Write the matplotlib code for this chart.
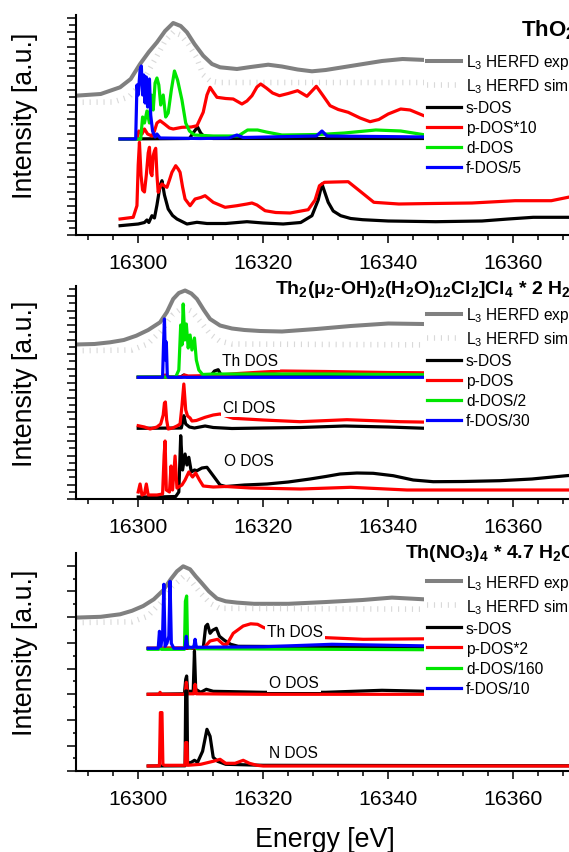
import numpy as np
import matplotlib
matplotlib.use("Agg")
import matplotlib.pyplot as plt
from matplotlib.ticker import MultipleLocator

plt.rcParams['font.family'] = ['Liberation Sans', 'DejaVu Sans']
plt.rcParams['mathtext.default'] = 'regular'

W, H = 569, 853
X0 = 75.7          # left spine, px
AX_W = 500.0       # 16290 .. 16370 eV

# ---------------- ThO2 ----------------
tho2_exp = [(16290, 139.3), (16294, 141), (16297.1, 147.7), (16298.8, 156), (16300.3, 171), (16301.7, 183),
            (16303.0, 192.7), (16304.3, 204), (16305.6, 212), (16306.8, 209), (16307.8, 202.7), (16309.0, 191),
            (16310.4, 179.3), (16311.8, 171), (16313.1, 167.7), (16315.8, 166), (16318, 168), (16320.8, 170.3),
            (16323, 168.5), (16325.5, 165.5), (16327.8, 163.7), (16330, 165), (16333, 168), (16336, 171),
            (16339, 174), (16342.3, 176), (16346, 175), (16350, 174)]
tho2_sim = [(16290, 132.7), (16296, 133), (16298.5, 138), (16300, 148), (16301.1, 158), (16302.9, 178),
            (16304.3, 194), (16305.6, 203), (16306.8, 200), (16308, 191), (16309.3, 178), (16310.4, 160),
            (16311.5, 154), (16313, 152.5), (16350, 152.5)]
tho2_th_s = [(16297.1, 96), (16308.2, 96.5), (16308.9, 103), (16309.5, 108), (16310.0, 102), (16310.7, 97.5),
             (16312, 96.5), (16350, 96.5)]
tho2_th_p = [(16297.1, 96), (16299.8, 96.5), (16300.1, 104), (16300.6, 101), (16301.0, 106), (16301.5, 101),
             (16302.2, 99), (16302.6, 104), (16303.0, 112), (16303.5, 114.3), (16304.2, 111), (16305, 107),
             (16305.6, 106), (16307, 107.7), (16308.5, 108), (16309.4, 109.3), (16310.4, 122.7), (16311, 140),
             (16311.5, 147.7), (16312.0, 143), (16312.6, 137.7), (16314, 136.5), (16315.2, 136), (16316.6, 131),
             (16317.4, 134), (16318.2, 139.3), (16319.0, 148), (16319.6, 151), (16320.5, 147), (16321.5, 142),
             (16322.6, 139.3), (16324.0, 141.5), (16325.5, 144.3), (16327.0, 138.7), (16328.5, 148.7),
             (16329.5, 140), (16330.7, 129.3), (16332, 125.5), (16333.6, 122.7), (16335.5, 117), (16337.1, 113.3),
             (16338.5, 115.5), (16340, 121), (16342, 126), (16343.5, 125), (16345.7, 119.3), (16350, 114)]
tho2_th_d = [(16297.1, 96), (16300.4, 96), (16300.7, 118), (16301.0, 112), (16301.4, 124), (16301.8, 112),
             (16302.1, 140), (16302.4, 125), (16302.7, 152), (16303.0, 157), (16303.3, 150), (16303.6, 130),
             (16304.0, 140), (16304.4, 118), (16304.8, 122), (16305.3, 145), (16305.8, 164), (16306.3, 155),
             (16307.0, 135), (16307.6, 112), (16308.2, 104), (16309, 100), (16312, 99), (16316, 99),
             (16317.5, 105), (16319.1, 105), (16320.5, 103), (16323, 100), (16329, 100.5), (16333, 102),
             (16338, 105), (16342, 104), (16346, 100), (16350, 99.5)]
tho2_th_f = [(16297.1, 96), (16299.6, 96), (16299.8, 150), (16300.0, 140), (16300.3, 165), (16300.5, 169),
             (16300.7, 140), (16300.9, 160), (16301.1, 132), (16301.3, 158), (16301.5, 128), (16301.8, 156),
             (16302.0, 120), (16302.3, 104), (16302.7, 98), (16303.0, 101), (16303.5, 97), (16310, 96.5),
             (16314.5, 97), (16315.8, 100), (16316.8, 97.5), (16328.5, 99), (16329.4, 104), (16330.2, 99),
             (16346, 98), (16350, 98)]
tho2_o_s = [(16297.1, 9.3), (16300, 11), (16301.0, 12.5), (16301.4, 15), (16301.7, 12.5), (16302.2, 19.3),
            (16302.6, 17), (16303.0, 30), (16303.5, 49.3), (16303.8, 54.3), (16304.2, 40), (16304.8, 26),
            (16305.5, 19.5), (16306.2, 16), (16307.8, 11), (16309.4, 12.7), (16311, 11.5), (16314, 11.5),
            (16317.4, 13.3), (16320, 12), (16323.2, 11), (16326, 12.5), (16327.8, 19.3), (16328.8, 35),
            (16329.4, 51), (16330.0, 40), (16330.4, 32.7), (16331.2, 24), (16332.4, 19.3), (16334, 16.5),
            (16335.9, 15.3), (16340, 14), (16347.6, 13.3), (16355, 14), (16359.2, 16), (16363.2, 17.7),
            (16370, 17.7)]
tho2_o_p = [(16297.1, 16), (16299.2, 17.7), (16299.8, 29.3), (16300.0, 70), (16300.2, 92.7), (16300.45, 60),
            (16300.7, 45), (16301.0, 43), (16301.3, 60), (16301.6, 82), (16301.8, 87.7), (16302.0, 62),
            (16302.2, 59.3), (16302.4, 79.3), (16302.6, 84), (16302.8, 86.7), (16303.0, 60), (16303.2, 42.7),
            (16303.5, 48), (16303.8, 51), (16304.2, 49), (16304.6, 47.7), (16305.0, 55), (16305.4, 62.7),
            (16306.0, 69.3), (16306.4, 66), (16306.7, 62.7), (16307.1, 48), (16307.5, 36), (16308.3, 29.3),
            (16309.1, 36), (16310.0, 37.5), (16310.7, 39.3), (16312.0, 32.7), (16313.9, 27.7), (16315.8, 29.3),
            (16317.4, 31), (16318.2, 32), (16319.0, 30), (16320.3, 24.3), (16322, 22.5), (16324.3, 22),
            (16327.2, 25.3), (16328.3, 35), (16329.0, 49.3), (16329.8, 52.7), (16331.5, 53), (16333.6, 53.3),
            (16335.4, 44.3), (16337.7, 32.7), (16341.7, 31), (16347, 31.5), (16353.4, 32), (16360.3, 34.3),
            (16366.1, 34.3), (16369, 38), (16370, 39.3)]

# ---------------- Th2(mu2-OH)2(H2O)12Cl2]Cl4 * 2 H2O ----------------
cl_exp = [(16290, 154.5), (16293, 155), (16295.5, 156.7), (16297.7, 159), (16299.7, 163.3), (16301.6, 169),
          (16303.5, 176.7), (16304.6, 187), (16305.6, 200), (16306.5, 206), (16307.5, 208.5), (16308.5, 205.5),
          (16309.4, 200), (16310.5, 189), (16311.5, 180), (16313.1, 173.5), (16315, 170.5), (16317, 169),
          (16319.5, 168), (16323, 167.5), (16328.5, 170), (16334, 173), (16340, 175.5), (16345.6, 175),
          (16350, 174.5)]
cl_sim = [(16290, 148.3), (16299, 149), (16301.5, 155), (16303.5, 167), (16305.5, 184), (16307.2, 192),
          (16308.5, 188), (16310, 177), (16311.5, 165), (16313, 158), (16315, 155), (16350, 154)]
cl_th_s = [(16300, 121.7), (16306.8, 122), (16307.3, 124), (16307.8, 122), (16311.5, 122.5), (16312.2, 128),
           (16312.8, 129.3), (16313.3, 123.5), (16314, 122.5), (16350, 122.5)]
cl_th_p = [(16300, 121.7), (16304.0, 122), (16304.3, 124), (16304.6, 122), (16307, 122), (16307.4, 124),
           (16308, 123), (16312, 123.5), (16316, 125.5), (16320, 127), (16323, 128), (16330, 127.5),
           (16340, 126.5), (16350, 126)]
cl_th_d = [(16300, 122), (16306.0, 122), (16306.5, 129), (16306.8, 174), (16307.0, 154), (16307.2, 195),
           (16307.45, 159), (16307.7, 175), (16308.0, 151), (16308.3, 164), (16308.6, 149), (16309.0, 161),
           (16309.3, 139), (16309.7, 129), (16310.3, 124.5), (16312, 125), (16330, 125), (16350, 124)]
cl_th_f = [(16300, 121.7), (16303.9, 121.7), (16304.05, 154), (16304.2, 180), (16304.35, 139), (16304.5, 157),
           (16304.65, 124), (16304.8, 121.7), (16350, 121.7)]
cl_cl_s = [(16300, 70.7), (16306.9, 71), (16307.1, 77), (16307.3, 83.3), (16307.6, 75), (16308.2, 72),
           (16309, 71), (16310.7, 73), (16312, 71.5), (16315, 70.5), (16320, 71), (16326, 71.5), (16333, 73),
           (16340, 72), (16346, 70.7), (16355, 70), (16370, 70)]
cl_cl_p = [(16300, 73.3), (16301.0, 72), (16301.9, 70), (16303.0, 72), (16303.6, 75), (16304.0, 84),
           (16304.2, 96), (16304.35, 97), (16304.55, 79), (16304.8, 70), (16305.5, 71), (16306.2, 73),
           (16306.7, 75), (16307.0, 93), (16307.3, 115), (16307.6, 89), (16307.9, 83), (16308.3, 81),
           (16308.6, 78), (16309.3, 78.5), (16310.7, 81.7), (16312.0, 84), (16313.1, 85), (16314, 83),
           (16315.2, 80.7), (16320, 79), (16325.9, 77.3), (16333.4, 79.3), (16341.9, 77.3), (16350, 76.5)]
cl_o_s = [(16300, 2), (16303, 2), (16306.0, 2.5), (16306.5, 7), (16306.8, 63.3), (16307.1, 29),
          (16307.5, 45), (16307.8, 34), (16308.1, 41.7), (16308.5, 27), (16309.0, 29), (16309.4, 28.3),
          (16310.2, 31), (16311, 31.7), (16312, 23.3), (16313.1, 14), (16314, 12.5), (16317, 14),
          (16320.6, 15), (16324, 17), (16327.5, 20), (16330, 22.5), (16332.3, 25), (16335, 26),
          (16337.6, 25.7), (16340.8, 23.3), (16344, 19), (16347.2, 17.3), (16352, 17.5), (16357.9, 18.3),
          (16363, 20), (16368.5, 23.3), (16370, 24)]
cl_o_p = [(16300, 7), (16300.3, 15), (16300.6, 4), (16301.0, 5), (16301.3, 15), (16301.6, 4),
          (16303.0, 4), (16303.9, 5), (16304.15, 44), (16304.3, 58), (16304.5, 9), (16305.0, 7),
          (16305.25, 33), (16305.5, 9), (16305.9, 43), (16306.2, 11), (16307.0, 14), (16307.5, 19),
          (16308.1, 27), (16308.7, 22), (16309.2, 26), (16309.8, 19), (16310.4, 13), (16312, 12),
          (16314, 12.5), (16318, 11), (16326, 10), (16334, 11.7), (16343, 9), (16370, 9)]

# ---------------- Th(NO3)4 * 4.7 H2O ----------------
nit_exp = [(16290, 153.7), (16294, 154.5), (16297.1, 157), (16299, 160.5), (16300.8, 165.3), (16302.5, 172),
           (16304, 181), (16305.2, 192), (16306.2, 200), (16307.2, 205), (16308.3, 202), (16309.2, 195),
           (16310.1, 188.7), (16311.3, 180), (16312.6, 172.8), (16314, 170), (16315.8, 168.7), (16318.5, 167.5),
           (16324, 167.5), (16330.1, 169.3), (16335.9, 171.3), (16340.6, 173.7), (16345.7, 172), (16350, 171.5)]
nit_sim = [(16290, 148.7), (16299, 149.5), (16301.5, 155), (16303.5, 168), (16305.5, 185), (16307.3, 195),
           (16308.5, 190), (16310, 178), (16311.5, 168), (16313, 163), (16350, 162)]
nit_th_s = [(16301.6, 123), (16310.4, 123), (16310.8, 145), (16311.1, 147), (16311.5, 138), (16311.9, 141),
            (16312.5, 143), (16313, 135), (16313.8, 131), (16314.8, 127), (16316, 125), (16350, 124)]
nit_th_p = [(16301.6, 123), (16310.5, 123.5), (16311.5, 130.3), (16312.7, 132), (16313.6, 127), (16314.2, 127),
            (16315.2, 138), (16316.8, 145.3), (16318, 147.5), (16319.1, 147), (16320, 144), (16322, 139),
            (16326, 135), (16329.8, 133.7), (16336, 132), (16350, 132.7)]
nit_th_d = [(16301.6, 122), (16303.3, 122), (16303.5, 126), (16303.7, 122), (16307.4, 122), (16307.55, 170),
            (16307.75, 175.3), (16307.9, 126), (16308.2, 123), (16308.8, 124), (16309.1, 127), (16309.4, 122.5),
            (16330, 122), (16350, 121.5)]
nit_th_f = [(16301.6, 123), (16303.2, 123), (16303.4, 140), (16303.6, 125), (16303.9, 135), (16304.1, 187),
            (16304.3, 125), (16304.6, 128), (16304.9, 135), (16305.1, 190), (16305.3, 128), (16305.7, 123),
            (16307.5, 123), (16307.7, 135), (16307.9, 124), (16308.9, 124), (16309.1, 132), (16309.3, 124),
            (16320, 124.5), (16331, 127), (16350, 125)]
nit_o_s = [(16301.6, 77), (16307.4, 77.5), (16307.6, 92), (16307.75, 95.3), (16307.9, 80), (16308.8, 80),
           (16309.0, 120.3), (16309.2, 82), (16310, 79), (16310.9, 82), (16312, 80), (16320, 79), (16330, 79),
           (16339, 81), (16350, 79.5)]
nit_o_p = [(16301.6, 77), (16303.3, 77), (16303.5, 79), (16303.7, 77), (16307.5, 77), (16307.7, 89),
           (16307.9, 77.5), (16308.9, 77.5), (16309.1, 87), (16309.3, 77.5), (16320, 77), (16350, 77)]
nit_n_s = [(16301.6, 5.3), (16307.5, 5.5), (16307.6, 80.3), (16307.8, 80.3), (16307.9, 8), (16308.5, 9),
           (16309.0, 11), (16309.5, 9), (16310.3, 20), (16311.0, 42), (16311.5, 35), (16312.0, 14),
           (16312.7, 10), (16314, 7), (16320, 6), (16370, 5.5)]
nit_n_p = [(16301.6, 5.3), (16303.4, 5.5), (16303.55, 58.7), (16303.8, 58.7), (16303.95, 7), (16304.2, 6),
           (16307.5, 6), (16307.6, 28.7), (16307.8, 28.7), (16307.9, 6), (16310, 7), (16312, 10),
           (16313.1, 12), (16314, 8), (16315.5, 8), (16316.8, 11), (16317.8, 8), (16319, 6), (16320, 5.3),
           (16370, 5.3)]

tho2_labels = ['s-DOS', 'p-DOS*10', 'd-DOS', 'f-DOS/5']
cl_labels = ['s-DOS', 'p-DOS', 'd-DOS/2', 'f-DOS/30']
nit_labels = ['s-DOS', 'p-DOS*2', 'd-DOS/160', 'f-DOS/10']

DOS_COLORS = ['black', '#ff0000', '#00e600', '#0000ff']
SIM_STYLE = dict(color='#d9d9d9', lw=4.0, linestyle=(0, (0.2, 1.05)))


def draw(ax, pts, **kw):
    e, y = zip(*pts)
    return ax.plot(e, y, solid_joinstyle='round', **kw)[0]


def make_panel(bottom_px, top_px, step, minor_len):
    ax = fig.add_axes([X0 / W, 1 - bottom_px / H, AX_W / W, (bottom_px - top_px) / H])
    ax.set_xlim(16290, 16370)
    ax.set_ylim(0, bottom_px - top_px)
    for s in ['top', 'right']:
        ax.spines[s].set_visible(False)
    for s in ['left', 'bottom']:
        ax.spines[s].set_linewidth(1.5)
    ax.xaxis.set_major_locator(MultipleLocator(20))
    ax.xaxis.set_minor_locator(MultipleLocator(4))
    ax.yaxis.set_major_locator(MultipleLocator(2 * step))
    ax.yaxis.set_minor_locator(MultipleLocator(step))
    ax.tick_params(which='both', direction='out', width=1.1, labelsize=15.3, pad=7)
    ax.tick_params(axis='x', which='major', length=6)
    ax.tick_params(axis='x', which='minor', length=3.6)
    ax.tick_params(axis='y', which='major', length=6.3)
    ax.tick_params(axis='y', which='minor', length=minor_len)
    ax.tick_params(axis='y', labelleft=False)
    fig.text(25.4 / W, 1 - (bottom_px + top_px - 20) / 2 / H, 'Intensity [a.u.]', rotation=90,
             ha='center', va='center', fontsize=19.3)
    return ax


def fill_panel(ax, exp, sim, groups, labels, legend_top):
    h_exp = draw(ax, exp, color='#808080', lw=2.9, label='L$_3$ HERFD exp')
    h_sim = draw(ax, sim, label='L$_3$ HERFD sim', **SIM_STYLE)
    handles = [h_exp, h_sim]
    for gi, grp in enumerate(groups):
        for ci, pts in enumerate(grp):
            if pts is None:
                continue
            ln = draw(ax, pts, color=DOS_COLORS[ci], lw=2.3)
            if gi == 0:
                ln.set_label(labels[ci])
                handles.append(ln)
    ax.legend(handles=handles, loc='upper left', bbox_to_anchor=(424 / W, 1 - legend_top / H),
              bbox_transform=fig.transFigure, frameon=True, facecolor='white', edgecolor='none',
              framealpha=1, fancybox=False, borderpad=0.2, borderaxespad=0, handlelength=2.2,
              handletextpad=0.3, labelspacing=0.33, fontsize=11.2)


def tag(ax, x, y, s):
    ax.text(x, y, s, fontsize=11.2, ha='left', va='center', zorder=6,
            bbox=dict(facecolor='white', edgecolor='none', pad=1.5))


fig = plt.figure(figsize=(W / 100, H / 100), dpi=100)

# ThO2
ax1 = make_panel(236, 16, 7.25, 4.8)
fill_panel(ax1, tho2_exp, tho2_sim,
           [[tho2_th_s, tho2_th_p, tho2_th_d, tho2_th_f], [tho2_o_s, tho2_o_p, None, None]],
           tho2_labels, 50)
ax1.text(16361.3, 205.5, 'ThO$_2$', fontsize=16, fontweight='bold', ha='left', va='center', clip_on=False)

# chloride complex
ax2 = make_panel(500, 287, 7.25, 4.8)
fill_panel(ax2, cl_exp, cl_sim,
           [[cl_th_s, cl_th_p, cl_th_d, cl_th_f], [cl_cl_s, cl_cl_p, None, None], [cl_o_s, cl_o_p, None, None]],
           cl_labels, 303)
ax2.text(16321.9, 211, 'Th$_2$(μ$_2$-OH)$_2$(H$_2$O)$_{12}$Cl$_2$]Cl$_4$ * 2 H$_2$O', fontsize=14,
         fontweight='bold', ha='left', va='center', clip_on=False)
tag(ax2, 16313.4, 138.3, 'Th DOS')
tag(ax2, 16313.5, 91.7, 'Cl DOS')
tag(ax2, 16313.8, 38.3, 'O DOS')

# nitrate
ax3 = make_panel(772.3, 554, 12.85, 2.5)
fill_panel(ax3, nit_exp, nit_sim,
           [[nit_th_s, nit_th_p, nit_th_d, nit_th_f], [nit_o_s, nit_o_p, None, None],
            [nit_n_s, nit_n_p, None, None]],
           nit_labels, 570.6)
ax3.text(16342.7, 219, 'Th(NO$_3$)$_4$ * 4.7 H$_2$O', fontsize=14, fontweight='bold', ha='left',
         va='center', clip_on=False)
tag(ax3, 16320.6, 139.7, 'Th DOS')
tag(ax3, 16320.9, 88.7, 'O DOS')
tag(ax3, 16320.9, 18.7, 'N DOS')

fig.text(324.8 / W, 1 - 840 / H, 'Energy [eV]', ha='center', va='center', fontsize=19.3)

fig.savefig('out.png', dpi=100)
